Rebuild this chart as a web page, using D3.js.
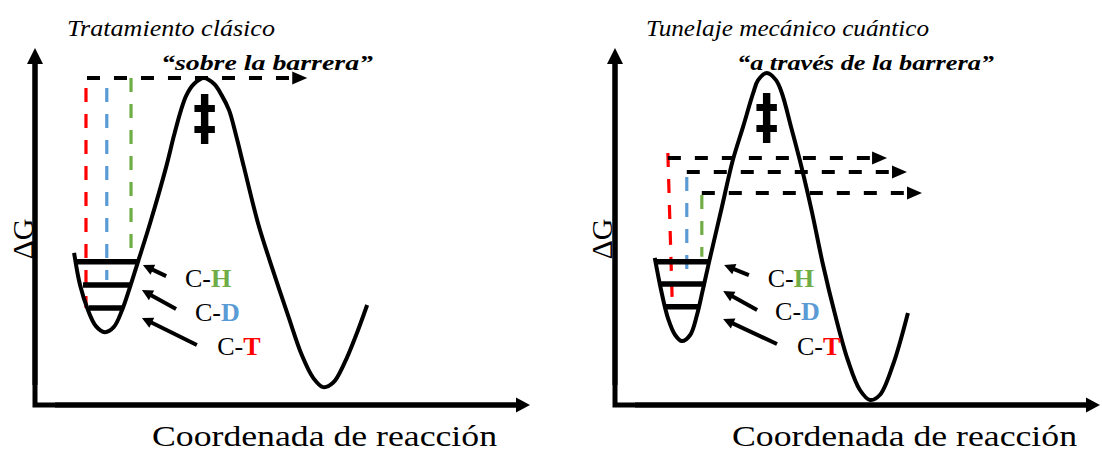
<!DOCTYPE html>
<html>
<head>
<meta charset="utf-8">
<script src="https://cdn.jsdelivr.net/npm/d3@7"></script>
<style>
  html, body { margin: 0; padding: 0; background: #ffffff; }
  svg { display: block; }
</style>
</head>
<body>
<svg id="chart" width="1102" height="457"></svg>
<script>
// ---------------- DATA (arbitrary units: reaction coordinate 0-100, ΔG 0-100) ----------------
const titles = ["Tratamiento clásico", "Tunelaje mecánico cuántico"];
const subtitles = ["\u201csobre la barrera\u201d", "\u201ca trav\u00e9s de la barrera\u201d"];
const xAxisLabel = "Coordenada de reacción";
const yAxisLabel = "ΔG";
const isotopes = ["H", "D", "T"];
const transitionSymbol = "‡";

// Energy profile, classical panel
const curveClasicoX = [7.9, 9.1, 10.7, 12.3, 14.1, 15.9, 17.6, 19.2, 20.8, 23.2, 26.5, 28.1, 29.5, 30.6, 32.1, 34.1, 36.2, 37.7, 39.2, 40.6, 42.2, 45.1, 47.5, 51.1, 53.9, 56.2, 58.2, 60.2, 62.6, 65.1, 67.1];
const curveClasicoY = [42.6, 33.6, 26.6, 22.1, 20.4, 21.8, 26.6, 33.1, 40.1, 50.7, 66.7, 75.6, 82.6, 86.8, 89.9, 91.6, 89.9, 86.8, 82.6, 75.6, 66.7, 50.7, 40.1, 25.2, 14.0, 7.6, 5.0, 6.2, 12.0, 20.4, 28.0];
// Energy profile, tunnelling panel
const curveTunelX = [8.2, 9.5, 10.9, 12.4, 13.8, 15.5, 16.9, 18.1, 19.4, 21.9, 24.3, 26.4, 28.5, 29.5, 31.3, 33.2, 34.4, 36.3, 38.1, 40.6, 42.9, 45.4, 48.0, 50.5, 52.6, 54.6, 57.3, 60.4];
const curveTunelY = [41.2, 32.2, 24.4, 19.6, 17.9, 19.6, 25.2, 32.2, 40.1, 54.6, 68.6, 77.9, 87.4, 91.0, 93.0, 91.0, 87.4, 77.9, 68.6, 54.1, 39.2, 25.2, 12.6, 4.2, 1.4, 2.8, 11.2, 25.8];

// Vibrational levels (order: H, D, T)
const levelClasicoY  = [40.1, 33.6, 27.2];
const levelClasicoX0 = [8.1, 9.7, 10.9];
const levelClasicoX1 = [20.6, 19.2, 17.6];
const levelTunelY  = [40.1, 33.9, 27.5];
const levelTunelX0 = [8.2, 9.5, 10.5];
const levelTunelX1 = [19.2, 18.6, 17.5];

// Coloured vertical dashed lines (order: H, D, T)
const vertClasicoX0 = [19.4, 14.5, 10.3];
const vertClasicoX1 = [19.4, 14.5, 10.3];
const vertClasicoTop = [91.6, 88.8, 88.8];
const vertClasicoBot = [40.1, 35.0, 27.2];
const vertTunelX0 = [17.9, 14.8, 10.9];
const vertTunelX1 = [17.9, 14.8, 11.8];
const vertTunelTop = [58.8, 63.9, 70.6];
const vertTunelBot = [41.5, 35.0, 28.9];

// Horizontal dashed arrows
const horizClasicoY  = [91.6];
const horizClasicoX0 = [10.5];
const horizClasicoX1 = [55.0];
const horizTunelY  = [59.4, 65.3, 69.2];
const horizTunelX0 = [17.9, 14.8, 10.9];
const horizTunelX1 = [63.3, 60.2, 56.1];

// Pointer arrows to the levels (order: H, D, T)
const ptrClasicoFromX = [26.5, 28.5, 32.7];
const ptrClasicoFromY = [36.1, 26.9, 16.8];
const ptrClasicoToX   = [21.8, 21.6, 21.6];
const ptrClasicoToY   = [39.2, 32.2, 24.4];
const ptrTunelFromX = [27.6, 29.3, 33.4];
const ptrTunelFromY = [36.4, 26.6, 17.1];
const ptrTunelToX   = [22.5, 22.3, 22.3];
const ptrTunelToY   = [39.2, 31.9, 24.1];

// Bond labels (order: H, D, T)
const labelClasicoX = [30.3, 32.3, 36.8];
const labelClasicoY = [33.1, 23.5, 14.0];
const labelTunelX = [31.5, 33.0, 37.5];
const labelTunelY = [33.1, 23.8, 14.0];

// Transition state symbol
const tsClasico = [34.3, 81.0];
const tsTunel = [31.3, 81.2];

// ---------------- STYLE / LAYOUT ----------------
const isotopeColors = ["#70AD47", "#5B9BD5", "#FF0000"];
const serif = "'Liberation Serif', 'Times New Roman', 'DejaVu Serif', serif";
const svg = d3.select("#chart");

const panelsLayout = [
  { xr: [35, 530], yr: [405, 48], titleX: 67, titleW: 208, subX: 161, subW: 212, xlabX: 152, ylabX: 33 },
  { xr: [615, 1100], yr: [405, 48], titleX: 646, titleW: 283, subX: 737, subW: 257, xlabX: 732, ylabX: 612 }
];

const panelData = [
  {
    cx: curveClasicoX, cy: curveClasicoY,
    lvY: levelClasicoY, lvX0: levelClasicoX0, lvX1: levelClasicoX1,
    vX0: vertClasicoX0, vX1: vertClasicoX1, vTop: vertClasicoTop, vBot: vertClasicoBot,
    hY: horizClasicoY, hX0: horizClasicoX0, hX1: horizClasicoX1,
    pFX: ptrClasicoFromX, pFY: ptrClasicoFromY, pTX: ptrClasicoToX, pTY: ptrClasicoToY,
    lbX: labelClasicoX, lbY: labelClasicoY, ts: tsClasico
  },
  {
    cx: curveTunelX, cy: curveTunelY,
    lvY: levelTunelY, lvX0: levelTunelX0, lvX1: levelTunelX1,
    vX0: vertTunelX0, vX1: vertTunelX1, vTop: vertTunelTop, vBot: vertTunelBot,
    hY: horizTunelY, hX0: horizTunelX0, hX1: horizTunelX1,
    pFX: ptrTunelFromX, pFY: ptrTunelFromY, pTX: ptrTunelToX, pTY: ptrTunelToY,
    lbX: labelTunelX, lbY: labelTunelY, ts: tsTunel
  }
];

function arrow(g, x1, y1, x2, y2, o) {
  const dx = x2 - x1, dy = y2 - y1, L = Math.hypot(dx, dy);
  const ux = dx / L, uy = dy / L;
  const bx = x2 - ux * o.len, by = y2 - uy * o.len;
  const px = -uy, py = ux;
  g.append("line")
    .attr("x1", x1).attr("y1", y1)
    .attr("x2", bx + ux * 1).attr("y2", by + uy * 1)
    .attr("stroke", o.color || "#000")
    .attr("stroke-width", o.sw)
    .attr("stroke-dasharray", o.dash || null);
  g.append("path")
    .attr("d", `M${x2},${y2}L${bx + px * o.wid / 2},${by + py * o.wid / 2}L${bx - px * o.wid / 2},${by - py * o.wid / 2}Z`)
    .attr("fill", o.color || "#000");
}

panelsLayout.forEach((lay, i) => {
  const d = panelData[i];
  const x = d3.scaleLinear().domain([0, 100]).range(lay.xr);
  const y = d3.scaleLinear().domain([0, 100]).range(lay.yr);
  const g = svg.append("g");

  // axes
  g.append("path")
    .attr("d", `M${x(0)},${y(100) + 14}L${x(0)},${y(0)}L${x(100) - 12},${y(0)}`)
    .attr("fill", "none").attr("stroke", "#000").attr("stroke-width", 5)
    .attr("stroke-linejoin", "miter");
  arrow(g, x(0), y(0) - 20, x(0), y(100), { len: 16, wid: 16, sw: 5 });
  arrow(g, x(0) + 20, y(0), x(100), y(0), { len: 14, wid: 15, sw: 5 });

  // coloured vertical dashed lines
  isotopes.forEach((iso, k) => {
    g.append("line")
      .attr("x1", x(d.vX0[k])).attr("y1", y(d.vTop[k]))
      .attr("x2", x(d.vX1[k])).attr("y2", y(d.vBot[k]))
      .attr("stroke", isotopeColors[k]).attr("stroke-width", 3.2)
      .attr("stroke-dasharray", "14,12");
  });

  // horizontal dashed arrows
  d.hY.forEach((hy, k) => {
    arrow(g, x(d.hX0[k]), y(hy), x(d.hX1[k]), y(hy), { len: 15, wid: 13, sw: 4, dash: "13,14" });
  });

  // energy profile
  const line = d3.line().x((_, j) => x(d.cx[j])).y((_, j) => y(d.cy[j])).curve(d3.curveCatmullRom.alpha(0.5));
  g.append("path")
    .attr("d", line(d.cx))
    .attr("fill", "none").attr("stroke", "#000").attr("stroke-width", 4)
    .attr("stroke-linecap", "butt");

  // vibrational levels
  d.lvY.forEach((ly, k) => {
    g.append("line")
      .attr("x1", x(d.lvX0[k])).attr("y1", y(ly))
      .attr("x2", x(d.lvX1[k])).attr("y2", y(ly))
      .attr("stroke", "#000").attr("stroke-width", 5.5);
  });

  // pointer arrows
  isotopes.forEach((iso, k) => {
    arrow(g, x(d.pFX[k]), y(d.pFY[k]), x(d.pTX[k]), y(d.pTY[k]), { len: 11, wid: 11, sw: 4 });
  });

  // bond labels
  isotopes.forEach((iso, k) => {
    const t = g.append("text")
      .attr("x", x(d.lbX[k])).attr("y", y(d.lbY[k]))
      .attr("font-family", serif)
      .attr("font-size", 26);
    t.append("tspan").text("C-").attr("fill", "#000");
    t.append("tspan").text(iso).attr("fill", isotopeColors[k]).attr("font-weight", "bold");
  });

  // transition state symbol (vertically stretched glyph)
  g.append("text")
    .attr("transform", `translate(${x(d.ts[0])},${y(d.ts[1])}) scale(1,1.3)`)
    .attr("y", 17)
    .attr("text-anchor", "middle")
    .attr("font-family", "'DejaVu Sans', sans-serif")
    .attr("font-size", 46).attr("font-weight", "bold")
    .text(transitionSymbol);

  // titles
  g.append("text")
    .attr("x", lay.titleX).attr("y", 36)
    .attr("font-family", serif)
    .attr("font-size", 24).attr("font-style", "italic")
    .attr("textLength", lay.titleW).attr("lengthAdjust", "spacingAndGlyphs")
    .text(titles[i]);
  g.append("text")
    .attr("x", lay.subX).attr("y", 70)
    .attr("font-family", serif)
    .attr("font-size", 22).attr("font-style", "italic").attr("font-weight", "bold")
    .attr("textLength", lay.subW).attr("lengthAdjust", "spacingAndGlyphs")
    .text(subtitles[i]);

  // axis labels
  g.append("text")
    .attr("x", lay.xlabX).attr("y", 446)
    .attr("font-family", serif)
    .attr("font-size", 29)
    .attr("textLength", 345).attr("lengthAdjust", "spacingAndGlyphs")
    .text(xAxisLabel);
  g.append("text")
    .attr("transform", `translate(${lay.ylabX},239) rotate(-90)`)
    .attr("text-anchor", "middle")
    .attr("font-family", serif)
    .attr("font-size", 30)
    .text(yAxisLabel);
});
</script>
</body>
</html>
